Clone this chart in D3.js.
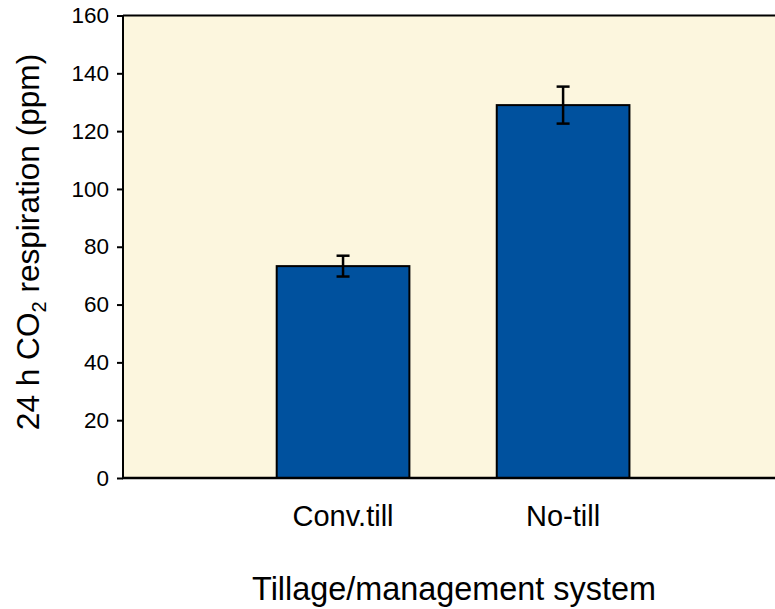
<!DOCTYPE html>
<html><head><meta charset="utf-8">
<script src="https://cdn.jsdelivr.net/npm/d3@7"></script>
<style>body{margin:0;background:#fff}svg{display:block}text{font-family:"Liberation Sans",Arial,sans-serif;fill:#000}</style>
</head><body><svg id="c" width="775" height="609"></svg>
<script>
const categories = ["Conv.till", "No-till"];
const values = [73.3, 129.0];
const errors = [3.6, 6.4];
const yTicks = [0, 20, 40, 60, 80, 100, 120, 140, 160];
const xTitle = "Tillage/management system";

const svg = d3.select("#c");
const L = 123, R = 775, T = 15.5, B = 478;
const x = d3.scaleLinear().domain([0, 2.963]).range([L, R]);
const y = d3.scaleLinear().domain([0, 160]).range([B, T]);
const barW = 0.603;

svg.append("rect").attr("x", L).attr("y", T).attr("width", R - L).attr("height", B - T).attr("fill", "#FCF6DE");
svg.append("line").attr("x1", L).attr("x2", R).attr("y1", T).attr("y2", T).attr("stroke", "#000").attr("stroke-width", 2);

const g = svg.append("g");
categories.forEach((c, i) => {
  const cx = x(i + 1);
  const w = x(barW) - x(0);
  g.append("rect").attr("x", cx - w / 2).attr("y", y(values[i])).attr("width", w).attr("height", y(0) - y(values[i]))
    .attr("fill", "#00519E").attr("stroke", "#000").attr("stroke-width", 2);
  const hi = y(values[i] + errors[i]), lo = y(values[i] - errors[i]);
  g.append("line").attr("x1", cx).attr("x2", cx).attr("y1", hi).attr("y2", lo).attr("stroke", "#000").attr("stroke-width", 2.5);
  [hi, lo].forEach(v => g.append("line").attr("x1", cx - 6.5).attr("x2", cx + 6.5).attr("y1", v).attr("y2", v).attr("stroke", "#000").attr("stroke-width", 2.5));
  svg.append("text").attr("x", cx).attr("y", 526).attr("text-anchor", "middle").attr("font-size", 29).text(c);
});

const yAxis = svg.append("g").attr("transform", `translate(${L},0)`)
  .call(d3.axisLeft(y).tickValues(yTicks).tickSize(6).tickPadding(8).tickFormat(d3.format("d")));
yAxis.select(".domain").attr("stroke", "#000").attr("stroke-width", 2).attr("d", `M0,${T}V${B}`);
yAxis.selectAll(".tick line").attr("stroke", "#000").attr("stroke-width", 2);
yAxis.selectAll(".tick text").attr("font-size", 22.5).attr("font-family", "Liberation Sans, Arial, sans-serif").attr("fill", "#000");

svg.append("line").attr("x1", L - 1).attr("x2", R).attr("y1", B).attr("y2", B).attr("stroke", "#000").attr("stroke-width", 2.5);

svg.append("text").attr("x", 454).attr("y", 600).attr("text-anchor", "middle").attr("font-size", 32.4).text(xTitle);

const yt = svg.append("text").attr("transform", "translate(39,242) rotate(-90)").attr("text-anchor", "middle").attr("font-size", 31.6);
yt.append("tspan").text("24 h CO");
yt.append("tspan").attr("font-size", 20).attr("dy", 7).text("2");
yt.append("tspan").attr("dy", -7).text(" respiration (ppm)");
</script></body></html>
